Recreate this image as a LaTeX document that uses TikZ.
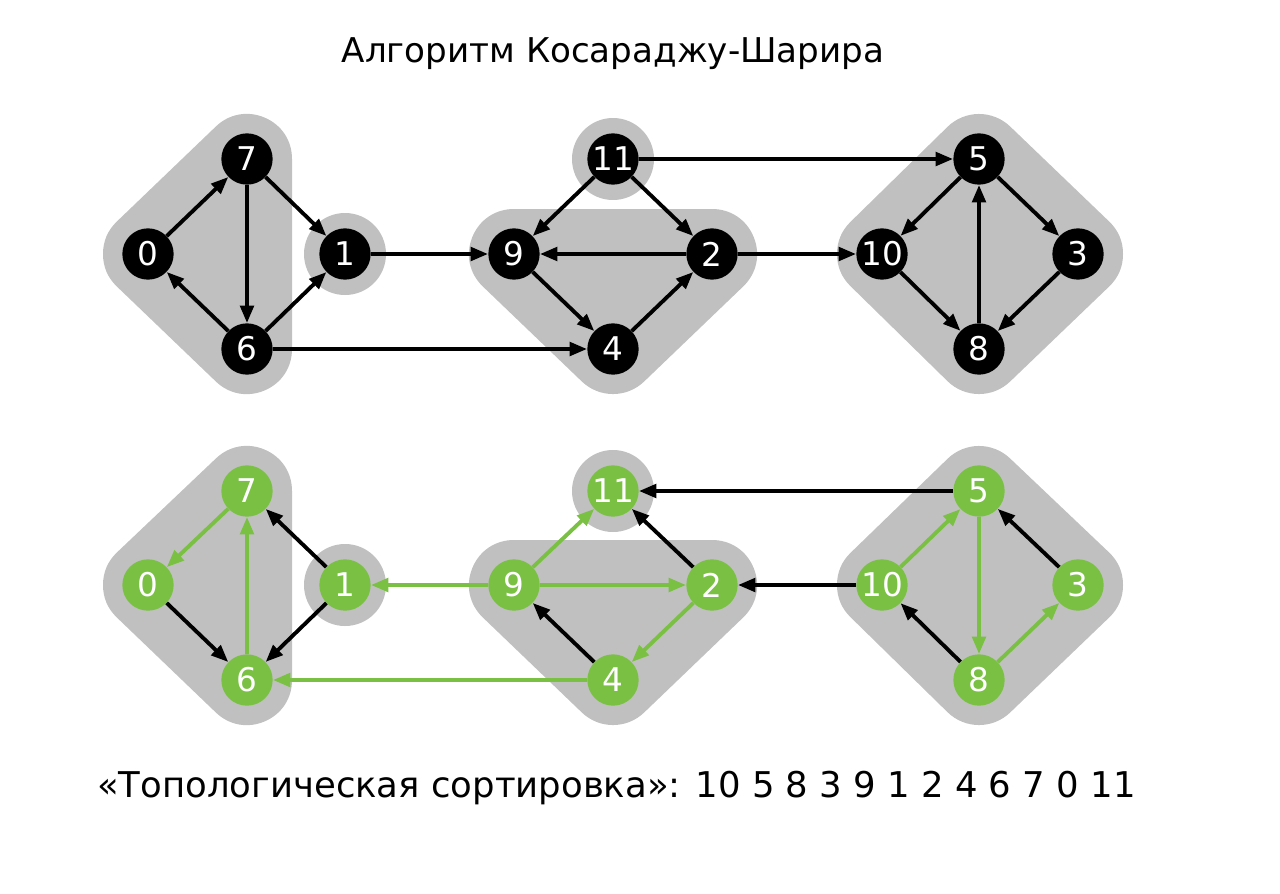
\documentclass[tikz,border=0pt]{standalone}
\usepackage{fontspec}
\setmainfont{DejaVu Sans}
\usetikzlibrary{arrows.meta}
\definecolor{sccgray}{RGB}{192,192,192}
\definecolor{dfsgreen}{RGB}{122,192,67}

\begin{document}
\begin{tikzpicture}[x=0.75pt,y=-0.75pt,
  vtx/.style={circle, minimum size=38.5pt, inner sep=0pt,
    font=\fontsize{24.5}{24.5}\selectfont, text=white},
  blackv/.style={vtx, fill=black},
  greenv/.style={vtx, fill=dfsgreen},
  scc/.style={fill=sccgray, draw=sccgray, line width=67.5pt, line join=round},
  single/.style={fill=sccgray},
  edge/.style={line width=2.9pt, -{Triangle[length=13pt,width=10pt]}},
  bedge/.style={edge, draw=black},
  gedge/.style={edge, draw=dfsgreen}]
\useasboundingbox[fill=white] (0,0) rectangle (1280,893);

% vertex positions, original graph
\coordinate (p0) at (148,254);  \coordinate (p7) at (247,159);
\coordinate (p6) at (247,349);  \coordinate (p1) at (345,254);
\coordinate (p9) at (514,254);  \coordinate (p11) at (613,159);
\coordinate (p4) at (613,349);  \coordinate (p2) at (712,254);
\coordinate (p10) at (882,254); \coordinate (p5) at (979,159);
\coordinate (p8) at (979,349);  \coordinate (p3) at (1078,254);
% vertex positions, transposed graph
\coordinate (q0) at (148,585);  \coordinate (q7) at (247,491);
\coordinate (q6) at (247,680);  \coordinate (q1) at (345,585);
\coordinate (q9) at (514,585);  \coordinate (q11) at (613,491);
\coordinate (q4) at (613,680);  \coordinate (q2) at (712,585);
\coordinate (q10) at (882,585); \coordinate (q5) at (979,491);
\coordinate (q8) at (979,680);  \coordinate (q3) at (1078,585);

% strongly connected components
\foreach \g in {p,q}{
  \draw[scc] (\g0) -- (\g7) -- (\g6) -- cycle;
  \draw[scc] (\g9) -- (\g2) -- (\g4) -- cycle;
  \draw[scc] (\g5) -- (\g3) -- (\g8) -- (\g10) -- cycle;
  \fill[single] (\g1) circle (30.75pt);
  \fill[single] (\g11) circle (30.75pt);
}

% title
\node[anchor=base, inner sep=0pt] (title) at (613,62)
  {\fontsize{25.6}{28}\selectfont Алгоритм Косараджу-Шарира};

% original graph
\foreach \v in {0,1,2,3,4,5,6,7,8,9,10,11}
  \node[blackv] (t\v) at (p\v) {\v};
\draw[bedge] (t0) -- (t7);
\draw[bedge] (t7) -- (t1);
\draw[bedge] (t7) -- (t6);
\draw[bedge] (t6) -- (t0);
\draw[bedge] (t6) -- (t1);
\draw[bedge] (t1) -- (t9);
\draw[bedge] (t6) -- (t4);
\draw[bedge] (t11) -- (t9);
\draw[bedge] (t11) -- (t2);
\draw[bedge] (t11) -- (t5);
\draw[bedge] (t2) -- (t9);
\draw[bedge] (t9) -- (t4);
\draw[bedge] (t4) -- (t2);
\draw[bedge] (t2) -- (t10);
\draw[bedge] (t5) -- (t10);
\draw[bedge] (t5) -- (t3);
\draw[bedge] (t10) -- (t8);
\draw[bedge] (t8) -- (t5);
\draw[bedge] (t3) -- (t8);

% transposed graph with DFS tree edges
\foreach \v in {0,1,2,3,4,5,6,7,8,9,10,11}
  \node[greenv] (b\v) at (q\v) {\v};
\draw[gedge] (b7) -- (b0);
\draw[bedge] (b0) -- (b6);
\draw[gedge] (b6) -- (b7);
\draw[bedge] (b1) -- (b7);
\draw[bedge] (b1) -- (b6);
\draw[gedge] (b9) -- (b1);
\draw[gedge] (b9) -- (b11);
\draw[bedge] (b2) -- (b11);
\draw[gedge] (b9) -- (b2);
\draw[gedge] (b2) -- (b4);
\draw[bedge] (b4) -- (b9);
\draw[gedge] (b4) -- (b6);
\draw[bedge] (b5) -- (b11);
\draw[bedge] (b10) -- (b2);
\draw[gedge] (b10) -- (b5);
\draw[gedge] (b5) -- (b8);
\draw[bedge] (b3) -- (b5);
\draw[gedge] (b8) -- (b3);
\draw[bedge] (b8) -- (b10);

% resulting order
\node[anchor=base west, inner sep=0pt] (order) at (97,797)
  {\fontsize{26.6}{30}\selectfont «Топологическая сортировка»: 10 5 8 3 9 1 2 4 6 7 0 11};
\end{tikzpicture}
\end{document}
